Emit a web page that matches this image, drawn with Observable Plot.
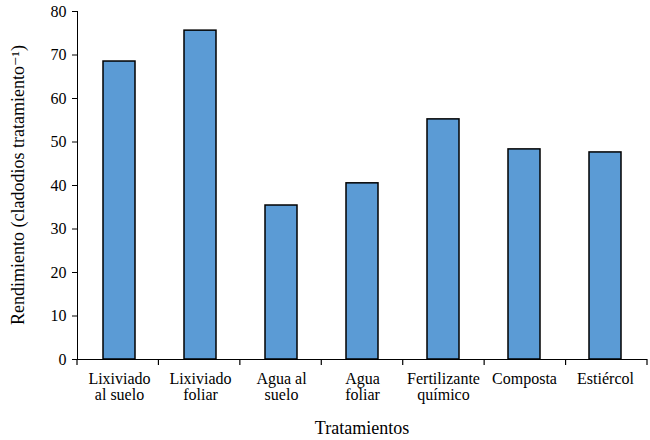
<!DOCTYPE html>
<html>
<head>
<meta charset="utf-8">
<script src="https://cdn.jsdelivr.net/npm/d3@7"></script>
<script src="https://cdn.jsdelivr.net/npm/@observablehq/plot@0.6"></script>
<style>
  html, body { margin: 0; padding: 0; background: white; }
</style>
</head>
<body>
<div id="chart"></div>
<script>
const categories = ["Lixiviado\nal suelo", "Lixiviado\nfoliar", "Agua al\nsuelo", "Agua\nfoliar", "Fertilizante\nquímico", "Composta", "Estiércol"];
const values = [68.5, 75.6, 35.4, 40.5, 55.2, 48.3, 47.6];
const yTicks = [0, 10, 20, 30, 40, 50, 60, 70, 80];
const yLabel = "Rendimiento (cladodios tratamiento⁻¹)";
const xLabel = "Tratamientos";

const FONT = "'Liberation Serif', Tinos, 'Times New Roman', 'DejaVu Serif', serif";
const data = categories.map((c, i) => ({cat: c, value: values[i]}));

const W = 650, H = 440;
const plot = Plot.plot({
  width: W,
  height: H,
  marginLeft: 77,
  marginRight: 3,
  marginTop: 11,
  marginBottom: 81,
  style: {fontSize: "16px", color: "black", background: "white", overflow: "visible"},
  x: {domain: categories, paddingInner: 0.6, paddingOuter: 0.3, align: 0.5, label: null, tickSize: 0, tickPadding: 13},
  y: {domain: [0, 80], ticks: yTicks, tickSize: 5, tickPadding: 6, line: true, label: null},
  marks: [
    Plot.barY(data, {x: "cat", y: "value", fill: "#5B9BD5", stroke: "black", strokeWidth: 1.5}),
    Plot.ruleY([0], {stroke: "black", strokeWidth: 1.2})
  ]
});

const svg = d3.select(plot);
const sx = plot.scale("x");
const sy = plot.scale("y");
const r0 = Math.min(...sx.range), r1 = Math.max(...sx.range);
const step = (r1 - r0) / categories.length;
const y0 = sy.apply(0);
for (let k = 0; k <= categories.length; k++) {
  svg.append("line")
    .attr("x1", r0 + k * step).attr("x2", r0 + k * step)
    .attr("y1", y0).attr("y2", y0 + 6)
    .attr("stroke", "black").attr("stroke-width", 1.2);
}
svg.append("text")
  .attr("x", (r0 + r1) / 2).attr("y", 434)
  .attr("text-anchor", "middle")
  .style("font-size", "18px")
  .attr("fill", "black")
  .text(xLabel);
const yMid = (sy.apply(0) + sy.apply(80)) / 2;
svg.append("text")
  .attr("transform", `translate(24,${yMid}) rotate(-90)`)
  .attr("text-anchor", "middle")
  .style("font-size", "18px")
  .attr("fill", "black")
  .text(yLabel);
plot.setAttribute("font-family", FONT);
plot.style.fontFamily = FONT;
svg.selectAll("g").attr("font-family", null);
svg.selectAll("text").attr("font-family", FONT).style("font-family", FONT);

document.getElementById("chart").appendChild(plot);
</script>
</body>
</html>
